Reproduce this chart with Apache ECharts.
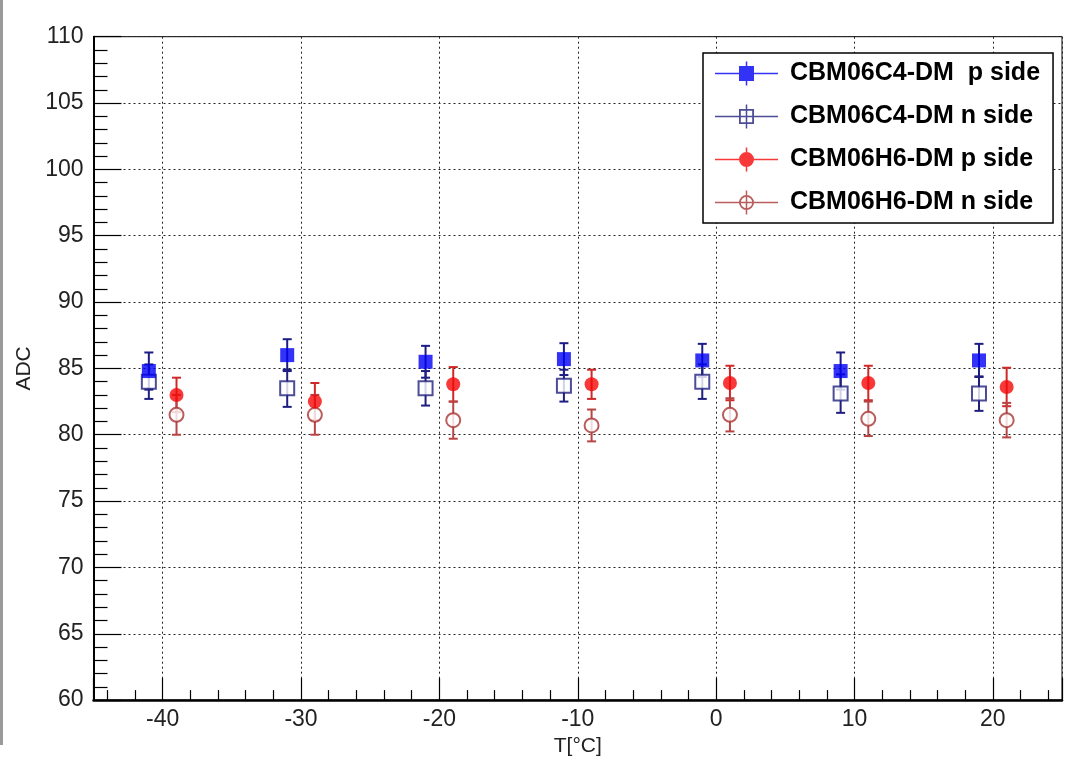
<!DOCTYPE html>
<html>
<head>
<meta charset="utf-8">
<script src="https://cdn.jsdelivr.net/npm/echarts@6/dist/echarts.min.js"></script>
<style>
html,body{margin:0;padding:0;background:#fff;}
#chart{width:1065px;height:762px;}
</style>
</head>
<body>
<div id="chart"></div>
<script>
// ---- data ----
const seriesNames = ['CBM06C4-DM  p side', 'CBM06C4-DM n side', 'CBM06H6-DM p side', 'CBM06H6-DM n side'];
const xC4 = [-41, -31, -21, -11, -1, 9, 19];
const xH6 = [-39, -29, -19, -9, 1, 11, 21];
const c4pY   = [84.8, 86.0, 85.5, 85.7, 85.6, 84.8, 85.6];
const c4pErr = [1.4, 1.2, 1.2, 1.2, 1.25, 1.4, 1.25];
const c4nY   = [84.0, 83.5, 83.5, 83.7, 84.0, 83.1, 83.1];
const c4nErr = [1.3, 1.4, 1.3, 1.2, 1.3, 1.45, 1.3];
const h6pY   = [83.0, 82.5, 83.8, 83.8, 83.9, 83.9, 83.6];
const h6pErr = [1.3, 1.4, 1.3, 1.1, 1.3, 1.3, 1.45];
const h6nY   = [81.5, 81.5, 81.1, 80.7, 81.5, 81.2, 81.1];
const h6nErr = [1.5, 1.5, 1.4, 1.2, 1.25, 1.3, 1.3];
const xLabelTicks = [-40, -30, -20, -10, 0, 10, 20];
const xMinorTicks = [-44, -42, -38, -36, -34, -32, -28, -26, -24, -22, -18, -16, -14, -12, -8, -6, -4, -2, 2, 4, 6, 8, 12, 14, 16, 18, 22, 24];
const yTicks = [60, 65, 70, 75, 80, 85, 90, 95, 100, 105, 110];

// ---- styles ----
const colFilledBlue = '#0000f5', colBlueLine = '#1c1c86';
const colOpenBlue = '#1f1f80';
const colFilledRed = '#f50808', colRedLine = '#d02828';
const colOpenRed = '#a83434', colOpenRedLine = '#b84444';

function pts(xs, ys) { return xs.map((x, i) => [x, ys[i]]); }
function errPts(xs, ys, es) { return xs.map((x, i) => [x, ys[i], es[i]]); }

function errSeries(name, data, color) {
  return {
    type: 'custom', name: name, data: data, z: 2, silent: true,
    encode: {x: 0, y: 1},
    renderItem: function (params, api) {
      const x = api.value(0), y = api.value(1), e = api.value(2);
      const t = api.coord([x, y + e]), b = api.coord([x, y - e]);
      const cw = 4.5;
      const st = {stroke: color, lineWidth: 2};
      return {type: 'group', children: [
        {type: 'line', shape: {x1: t[0], y1: t[1], x2: b[0], y2: b[1]}, style: st},
        {type: 'line', shape: {x1: t[0] - cw, y1: t[1], x2: t[0] + cw, y2: t[1]}, style: st},
        {type: 'line', shape: {x1: b[0] - cw, y1: b[1], x2: b[0] + cw, y2: b[1]}, style: st}
      ]};
    }
  };
}

// legend icon paths in a 63 x 24 box
const crossPath = 'M0 11.25 H63 V12.75 H0 Z M30.75 0 H32.25 V24 H30.75 Z ';
const iconFilledSq = 'path://' + crossPath + 'M24 4.5 H39 V19.5 H24 Z';
const iconOpenSq = 'path://' + crossPath + 'M24 4.5 H39 V19.5 H24 Z M25.8 6.3 V17.7 H37.2 V6.3 Z';
const iconFilledCi = 'path://' + crossPath + 'M39 12 A7.5 7.5 0 1 1 24 12 A7.5 7.5 0 1 1 39 12 Z';
const iconOpenCi = 'path://' + crossPath + 'M39 12 A7.5 7.5 0 1 1 24 12 A7.5 7.5 0 1 1 39 12 Z M37.2 12 A5.7 5.7 0 1 0 25.8 12 A5.7 5.7 0 1 0 37.2 12 Z';

const chart = echarts.init(document.getElementById('chart'), null, {renderer: 'canvas'});
const fontFam = '"Liberation Sans", Arial, Helvetica, sans-serif';

chart.setOption({
  animation: false,
  backgroundColor: '#fff',
  textStyle: {fontFamily: fontFam},
  graphic: [{type: 'rect', left: 0, top: 0, shape: {width: 3, height: 745}, style: {fill: '#9a9a9a'}, silent: true}],
  grid: {left: 93.5, right: -1.5, top: 36.7, bottom: 60.5, show: true, borderColor: '#000', borderWidth: 1, backgroundColor: 'transparent'},
  legend: {
    orient: 'vertical', left: 703, top: 53,
    itemWidth: 63, itemHeight: 24, itemGap: 18,
    padding: [8, 13, 8, 12],
    backgroundColor: '#fff', borderColor: '#000', borderWidth: 1.5,
    selectedMode: false,
    textStyle: {fontSize: 25, fontWeight: 'bold', color: '#000', fontFamily: fontFam, padding: [0, 0, 0, 7]},
    data: [
      {name: seriesNames[0], icon: iconFilledSq, itemStyle: {color: colFilledBlue, borderWidth: 0}},
      {name: seriesNames[1], icon: iconOpenSq, itemStyle: {color: colOpenBlue, borderWidth: 0}},
      {name: seriesNames[2], icon: iconFilledCi, itemStyle: {color: colFilledRed, borderWidth: 0}},
      {name: seriesNames[3], icon: iconOpenCi, itemStyle: {color: colOpenRed, borderWidth: 0}}
    ]
  },
  xAxis: [{
    type: 'value', min: -45, max: 25, splitNumber: 7,
    name: 'T[°C]', nameLocation: 'middle', nameGap: 33,
    nameTextStyle: {fontSize: 21, color: '#222', fontFamily: fontFam},
    axisLine: {show: true, onZero: false, lineStyle: {color: '#000', width: 2.5}},
    axisTick: {show: true, inside: true, length: 22, lineStyle: {color: '#000', width: 1.2}},
    axisLabel: {
      fontSize: 23, color: '#222', margin: 8, fontFamily: fontFam,
      formatter: v => (xLabelTicks.indexOf(v) >= 0 ? String(v) : '')
    },
    splitLine: {show: true, lineStyle: {color: '#222', width: 1, type: [2, 3]}},
    minorTick: {show: false}
  }, {
    type: 'value', min: -45, max: 25, position: 'bottom', gridIndex: 0,
    axisLine: {show: false, onZero: false},
    axisTick: {show: true, inside: true, length: 10, customValues: xMinorTicks, lineStyle: {color: '#000', width: 1.2}},
    axisLabel: {show: false},
    splitLine: {show: false}
  }],
  yAxis: {
    type: 'value', min: yTicks[0], max: yTicks[yTicks.length - 1], interval: 5,
    name: 'ADC', nameLocation: 'middle', nameGap: 48, nameRotate: 90,
    nameTextStyle: {fontSize: 21, color: '#222', fontFamily: fontFam},
    axisLine: {show: true, onZero: false, lineStyle: {color: '#000', width: 2}},
    axisTick: {show: true, inside: true, length: 28, lineStyle: {color: '#000', width: 1.2}},
    minorTick: {show: true, splitNumber: 5, length: 14, lineStyle: {color: '#000', width: 1.2}},
    axisLabel: {fontSize: 23, color: '#222', margin: 10, fontFamily: fontFam},
    splitLine: {show: true, lineStyle: {color: '#222', width: 1, type: [2, 3]}}
  },
  series: [
    errSeries('err_c4p', errPts(xC4, c4pY, c4pErr), colBlueLine),
    errSeries('err_c4n', errPts(xC4, c4nY, c4nErr), colOpenBlue),
    errSeries('err_h6p', errPts(xH6, h6pY, h6pErr), colRedLine),
    errSeries('err_h6n', errPts(xH6, h6nY, h6nErr), colOpenRedLine),
    {type: 'scatter', name: seriesNames[1], data: pts(xC4, c4nY), symbol: 'rect', symbolSize: 14, z: 3,
     itemStyle: {color: '#fff', borderColor: colOpenBlue, borderWidth: 2}, emphasis: {disabled: true}},
    {type: 'scatter', name: seriesNames[3], data: pts(xH6, h6nY), symbol: 'circle', symbolSize: 14, z: 3,
     itemStyle: {color: '#fff', borderColor: colOpenRed, borderWidth: 2}, emphasis: {disabled: true}},
    {type: 'scatter', name: seriesNames[0], data: pts(xC4, c4pY), symbol: 'rect', symbolSize: 14, z: 4,
     itemStyle: {color: colFilledBlue}, emphasis: {disabled: true}},
    {type: 'scatter', name: seriesNames[2], data: pts(xH6, h6pY), symbol: 'circle', symbolSize: 14, z: 4,
     itemStyle: {color: colFilledRed}, emphasis: {disabled: true}}
  ]
});
</script>
</body>
</html>
